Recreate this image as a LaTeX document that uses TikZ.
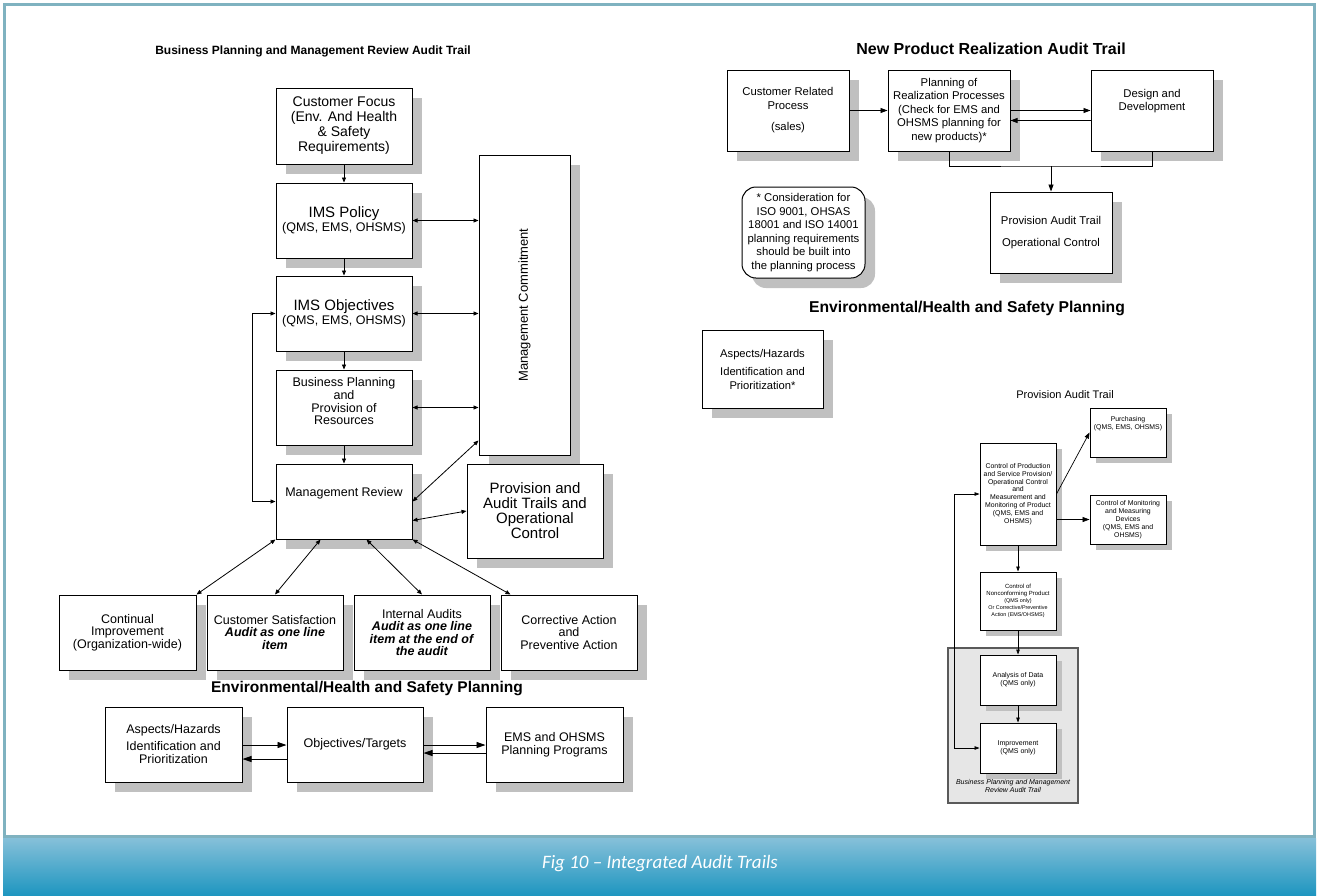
\documentclass[tikz,border=0pt]{standalone}
\usepackage{fontspec}
\setmainfont{Liberation Sans}
\newfontfamily\capfont{Carlito}
\usetikzlibrary{arrows.meta,shadows,calc}

\definecolor{framecol}{HTML}{7FB2C0}
\definecolor{shadowgray}{HTML}{C0C0C0}
\definecolor{barTop}{HTML}{86C0D9}
\definecolor{barBottom}{HTML}{1E96C0}
\definecolor{zonefill}{HTML}{E6E6E6}
\definecolor{zoneline}{HTML}{5A5A5A}

\newcommand\fs[2]{\fontsize{#1}{#2}\selectfont}

\tikzset{
  boxbase/.style={draw, fill=white, line width=1pt, align=center, inner sep=1pt},
  bigbox/.style={boxbase, drop shadow={shadow xshift=10pt, shadow yshift=-10pt, fill=shadowgray, opacity=1}},
  minibox/.style={boxbase, line width=0.9pt, drop shadow={shadow xshift=6pt, shadow yshift=-6pt, fill=shadowgray, opacity=1}},
  link/.style={line width=0.8pt, -{Triangle[length=5pt,width=4pt]}},
  twoway/.style={line width=0.8pt, {Triangle[length=5pt,width=4pt]}-{Triangle[length=5pt,width=4pt]}},
  midlink/.style={line width=0.8pt, -{Triangle[length=7pt,width=5pt]}},
  biglink/.style={line width=0.9pt, -{Triangle[length=9pt,width=6pt]}},
  tinylink/.style={line width=0.7pt, -{Triangle[length=5pt,width=3.5pt]}},
  tinytwo/.style={line width=0.7pt, {Triangle[length=5pt,width=3.5pt]}-{Triangle[length=5pt,width=3.5pt]}},
  heading/.style={font=\bfseries\fs{#1}{#1}, inner sep=0pt},
}

\begin{document}
\begin{tikzpicture}[x=1pt, y=-1pt]
\useasboundingbox (0,0) rectangle (1319,895);
\fill[white] (0,0) rectangle (1319,895);

% page frame
\draw[framecol, line width=3pt] (4.5,4.5) rectangle (1314.5,836);

% ---------------- Business planning and management review ----------------
\node[heading=12] (t1) at (313,51) {Business Planning and Management Review Audit Trail};

\node[bigbox, minimum width=91pt, minimum height=300pt] (mc) at (524.5,305) {};
\node[rotate=90, font=\fs{13}{15}] (mctext) at (mc.center) {Management Commitment};

\node[bigbox, minimum width=136pt, minimum height=76pt, font=\fs{14}{15}] (cf) at (344,126)
  {Customer Focus\\(Env. And Health\\\& Safety\\Requirements)};
\node[bigbox, minimum width=136pt, minimum height=75pt, font=\fs{12.5}{14}] (pol) at (344,220.5)
  {{\fs{15}{16}IMS Policy}\\(QMS, EMS, OHSMS)};
\node[bigbox, minimum width=136pt, minimum height=75pt, font=\fs{12.5}{14}] (obj) at (344,313.5)
  {{\fs{15}{16}IMS Objectives}\\(QMS, EMS, OHSMS)};
\node[bigbox, minimum width=136pt, minimum height=75pt, font=\fs{12.5}{12.7}] (bp) at (344,407.5)
  {Business Planning\\and\\Provision of\\Resources\\\mbox{}};
\node[bigbox, minimum width=136pt, minimum height=75pt, font=\fs{12.5}{14}] (mr) at (344,501.5)
  {Management Review\\[5pt]\mbox{}};
\node[bigbox, minimum width=136pt, minimum height=94pt, font=\fs{15}{15}] (prov) at (535,511)
  {Provision and\\Audit Trails and\\Operational\\Control};

\node[bigbox, minimum width=137pt, minimum height=75pt, font=\fs{12.5}{12.6}] (cont) at (127.5,632.5)
  {Continual\\Improvement\\(Organization-wide)};
\node[bigbox, minimum width=136pt, minimum height=75pt, font=\fs{12.5}{12.6}] (cs) at (275,632.5)
  {Customer Satisfaction\\\textbf{\textit{Audit as one line}}\\\textbf{\textit{item}}};
\node[bigbox, minimum width=136pt, minimum height=75pt, font=\fs{12.5}{12.4}] (ia) at (422,632.5)
  {Internal Audits\\\textbf{\textit{Audit as one line}}\\\textbf{\textit{item at the end of}}\\\textbf{\textit{the audit}}};
\node[bigbox, minimum width=136pt, minimum height=75pt, font=\fs{12.5}{12.6}] (ca) at (569,632.5)
  {Corrective Action\\and\\Preventive Action};

\draw[link] (cf) -- (pol);
\draw[link] (pol) -- (obj);
\draw[link] (obj) -- (bp);
\draw[link] (bp) -- (mr);
\draw[twoway] (pol.east) -- (pol.east -| mc.west);
\draw[twoway] (obj.east) -- (obj.east -| mc.west);
\draw[twoway] (bp.east) -- (bp.east -| mc.west);
\draw[twoway] (mr.west) -- ++(-23,0) |- (obj.west);
\draw[twoway] (mr.east) -- ([yshift=15pt]mc.south west);
\draw[twoway] ([yshift=-19pt]mr.east) -- (prov.west);
\draw[twoway] (mr.south west) -- (cont.north east);
\draw[twoway] ([xshift=45pt]mr.south west) -- (cs.north);
\draw[twoway] ([xshift=91pt]mr.south west) -- (ia.north);
\draw[twoway] (mr.south east) -- ([xshift=10pt]ca.north west);

% ---------------- Environmental / health and safety planning (left) ----------------
\node[heading=15.5] (t2) at (367,689) {Environmental/Health and Safety Planning};

\node[bigbox, minimum width=137pt, minimum height=75pt, font=\fs{12.5}{13}] (asp) at (173.5,744.5)
  {Aspects/Hazards\\[4pt]Identification and\\Prioritization};
\node[bigbox, minimum width=136pt, minimum height=75pt, font=\fs{12.5}{13}] (ot) at (355,744.5)
  {Objectives/Targets};
\node[bigbox, minimum width=137pt, minimum height=75pt, font=\fs{12.5}{13}] (ems) at (554.5,744.5)
  {EMS and OHSMS\\Planning Programs};

\draw[biglink] ([yshift=-0.5pt]asp.east) -- ([yshift=-0.5pt]ot.west);
\draw[biglink] ([yshift=-14.5pt]ot.west) -- ([yshift=-14.5pt]asp.east);
\draw[biglink] ([yshift=-0.5pt]ot.east) -- ([yshift=-0.5pt]ems.west);
\draw[biglink] ([yshift=-8.5pt]ems.west) -- ([yshift=-8.5pt]ot.east);

% ---------------- New product realization ----------------
\node[heading=16] (t3) at (991,49) {New Product Realization Audit Trail};

\node[bigbox, minimum width=122pt, minimum height=81pt, font=\fs{11.3}{13.5}] (crp) at (788,110.5)
  {Customer Related\\Process\\[8pt](sales)};
\node[bigbox, minimum width=122pt, minimum height=81pt, font=\fs{11.3}{13.5}] (plan) at (949,110.5)
  {Planning of\\Realization Processes\\(Check for EMS and\\OHSMS planning for\\new products)*};
\node[bigbox, minimum width=122pt, minimum height=81pt, font=\fs{11.3}{13.5}] (des) at (1152,110.5)
  {Design and\\Development\\[8pt]\mbox{}};
\node[bigbox, minimum width=122pt, minimum height=81pt, font=\fs{11.3}{13.5}] (pat) at (1051,232.5)
  {Provision Audit Trail\\[8pt]Operational Control};
\node[bigbox, rounded corners=14pt, minimum width=123pt, minimum height=91pt, font=\fs{11.3}{13.6}] (note) at (803.5,232.5)
  {* Consideration for\\ISO 9001, OHSAS\\18001 and ISO 14001\\planning requirements\\should be built into\\the planning process};

\coordinate (join) at (1051,166);
\draw[midlink] (crp) -- (plan);
\draw[midlink] (plan.east) -- (des.west);
\draw[midlink] ([yshift=-10pt]des.west) -- ([yshift=-10pt]plan.east);
\draw[line width=0.8pt] (plan.south) |- (join) -| (des.south);
\draw[midlink] (join) -- (pat.north);

% ---------------- Environmental / health and safety planning (right) ----------------
\node[heading=15.7] (t4) at (967,308) {Environmental/Health and Safety Planning};
\node[bigbox, minimum width=121pt, minimum height=78pt, font=\fs{11.2}{13.5}] (asp2) at (762.5,369)
  {Aspects/Hazards\\[5pt]Identification and\\Prioritization*};

% ---------------- Provision audit trail ----------------
\node[font=\fs{11}{12}, inner sep=0pt] (t5) at (1065,395) {Provision Audit Trail};

\node[draw=zoneline, fill=zonefill, line width=1.2pt, minimum width=130pt, minimum height=155pt] (zone) at (1013,725.5) {};
\node[font=\itshape\fs{7}{8}, align=center, inner sep=0pt] (zonelabel) at (1013,785.5)
  {Business Planning and Management\\Review Audit Trail};

\node[minibox, minimum width=76pt, minimum height=102pt, font=\fs{6.9}{7.8}] (cop) at (1018,494)
  {Control of Production\\and Service Provision/\\Operational Control\\and\\Measurement and\\Monitoring of Product\\(QMS, EMS and\\OHSMS)};
\node[minibox, minimum width=76pt, minimum height=49pt, font=\fs{6.9}{7.6}] (pur) at (1128,432.5)
  {Purchasing\\(QMS, EMS, OHSMS)\\[11pt]\mbox{}};
\node[minibox, minimum width=76pt, minimum height=49pt, font=\fs{6.9}{8}] (com) at (1128,519.5)
  {Control of Monitoring\\and Measuring\\Devices\\(QMS, EMS and\\OHSMS)};
\node[minibox, minimum width=76pt, minimum height=58pt, font=\fs{5.4}{7}] (nc) at (1018,601)
  {{\fs{6}{7}Control of}\\{\fs{6}{7}Nonconforming Product}\\(QMS only)\\Or Corrective/Preventive\\Action (EMS/OHSMS)};
\node[minibox, minimum width=76pt, minimum height=50pt, font=\fs{7}{8}] (ad) at (1018,680)
  {Analysis of Data\\(QMS only)};
\node[minibox, minimum width=76pt, minimum height=50pt, font=\fs{7}{8}] (imp) at (1018,748)
  {Improvement\\(QMS only)};

\draw[tinylink] (cop) -- (nc);
\draw[tinylink] (nc) -- (ad);
\draw[tinylink] (ad) -- (imp);
\draw[tinytwo] (cop.west) -- ++(-25,0) |- (imp.west);
\draw[line width=0.7pt, -{Triangle[length=6pt,width=4.5pt]}] (cop.east) -- (pur.west);
\draw[line width=0.7pt, -{Triangle[length=7pt,width=5pt]}] (com.west -| cop.east) -- (com.west);

% ---------------- caption bar ----------------
\shade[top color=barTop, bottom color=barBottom] (3,838) rectangle (1316,895);
\node[font=\capfont\itshape\fs{19}{22}, text=white, inner sep=0pt] (caption) at (660,864)
  {Fig 10 – Integrated Audit Trails};
\end{tikzpicture}
\end{document}
